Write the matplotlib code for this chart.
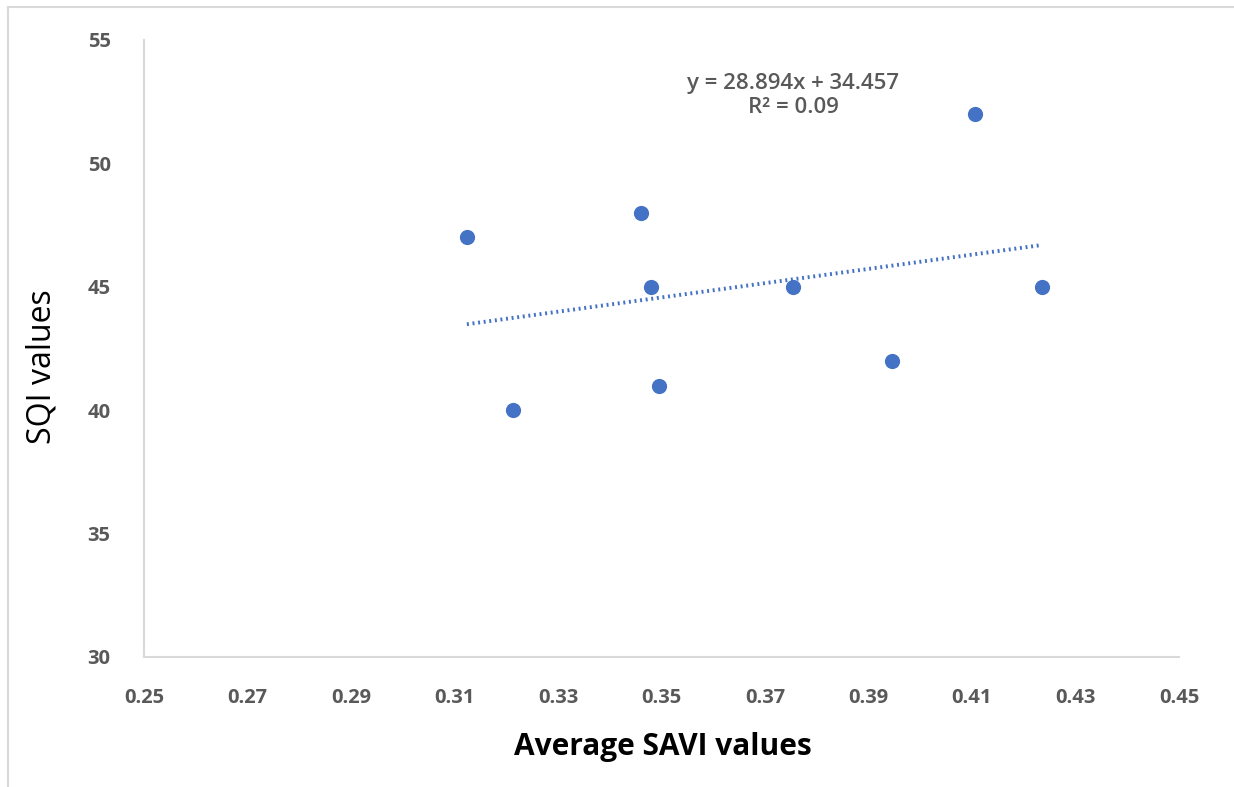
import matplotlib
matplotlib.use("Agg")
import matplotlib.pyplot as plt
import numpy as np
from matplotlib.lines import Line2D

savi = [0.3124, 0.3213, 0.346, 0.348, 0.3495, 0.3755, 0.3946, 0.4106, 0.4235]
sqi = [47, 40, 48, 45, 41, 45, 42, 52, 45]
slope, intercept = 28.894, 34.457
eq_text = "y = 28.894x + 34.457\nR² = 0.09"
xticks = [0.25, 0.27, 0.29, 0.31, 0.33, 0.35, 0.37, 0.39, 0.41, 0.43, 0.45]
yticks = [30, 35, 40, 45, 50, 55]

plt.rcParams['font.family'] = ['Open Sans', 'DejaVu Sans']
W, H = 1234, 787
fig = plt.figure(figsize=(W / 100, H / 100), dpi=100)
ax = fig.add_axes([144 / W, 1 - 657 / H, (1179 - 144) / W, (657 - 40) / H])

blue = '#4472C4'
ax.scatter(savi, sqi, s=120, color=blue, zorder=3, linewidths=0)
xs = np.array([min(savi), max(savi)])
ax.plot(xs, slope * xs + intercept, color=blue, lw=2.8, linestyle=(0, (0.5, 0.95)), zorder=2,
        solid_capstyle='butt', dash_capstyle='butt')

ax.set_xlim(0.25, 0.45)
ax.set_ylim(30, 55)
ax.set_xticks(xticks)
ax.set_xticklabels([f"{v:.2f}" for v in xticks])
ax.set_yticks(yticks)
ax.tick_params(length=0, labelsize=14.5, labelcolor='#595959')
ax.tick_params(axis='x', pad=22)
ax.tick_params(axis='y', pad=24)
for lab in ax.get_xticklabels() + ax.get_yticklabels():
    lab.set_fontweight('bold')
for side in ['top', 'right']:
    ax.spines[side].set_visible(False)
for side in ['left', 'bottom']:
    ax.spines[side].set_color('#d9d9d9')
    ax.spines[side].set_linewidth(1.5)

ax.text(0.3755, 52.75, eq_text, ha='center', va='center', fontsize=16, color='#595959',
        fontweight='semibold', linespacing=1.15)

fig.text(663 / W, 1 - 747 / H, "Average SAVI values", ha='center', va='center', fontsize=21.5,
         fontweight='bold', color='black')
fig.text(42 / W, 1 - 367 / H, "SQI values", ha='center', va='center', fontsize=23,
         rotation=90, color='black', fontweight='medium')

fig.add_artist(Line2D([8 / W, 8 / W], [0, 1 - 7 / H], transform=fig.transFigure, color='#d9d9d9', lw=1.5))
fig.add_artist(Line2D([8 / W, 1], [1 - 7 / H, 1 - 7 / H], transform=fig.transFigure, color='#d9d9d9', lw=1.5))

fig.savefig('out.png', dpi=100, facecolor='white')
